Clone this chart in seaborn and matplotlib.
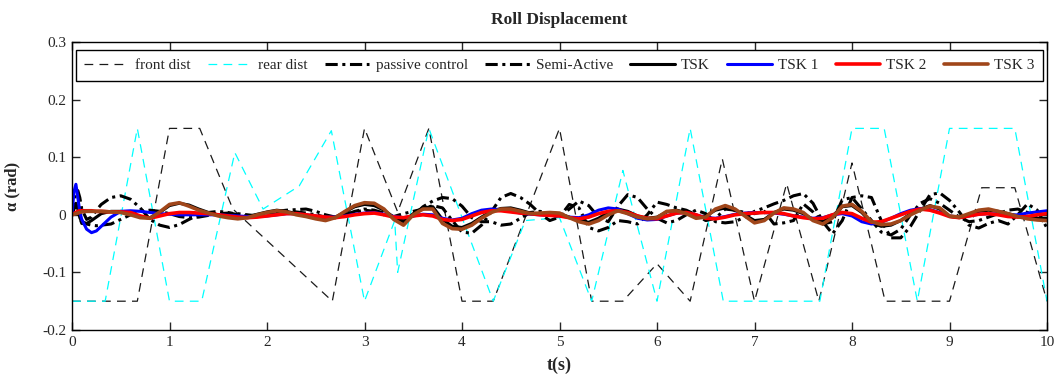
import numpy as np
import matplotlib
matplotlib.use("Agg")
import matplotlib.pyplot as plt
import seaborn as sns

# road disturbance profiles (knots)
front_t = [0, 0.67, 1.0, 1.31, 1.65, 2.67, 3.0, 3.34, 3.66, 4.0, 4.32, 5.0, 5.33, 5.65, 6.0, 6.34,
           6.67, 7.0, 7.33, 7.66, 8.0, 8.34, 9.0, 9.33, 9.67, 10.0]
front_y = [-0.15, -0.15, 0.15, 0.15, 0.01, -0.15, 0.15, 0.005, 0.15, -0.15, -0.15, 0.15, -0.15, -0.15, -0.085, -0.15,
           0.097, -0.15, 0.054, -0.15, 0.09, -0.15, -0.15, 0.047, 0.047, -0.15]
rear_t = [0, 0.34, 0.67, 1.0, 1.33, 1.67, 1.96, 2.33, 2.66, 3.0, 3.31, 3.34, 3.66, 4.32, 4.65, 5.0,
          5.33, 5.65, 6.0, 6.34, 6.68, 7.67, 8.0, 8.33, 8.67, 9.0, 9.67, 10.0]
rear_y = [-0.15, -0.15, 0.15, -0.15, -0.15, 0.108, 0.01, 0.05, 0.146, -0.15, -0.01, -0.1, 0.15, -0.15, -0.01, -0.005,
          -0.15, 0.077, -0.15, 0.15, -0.15, -0.15, 0.15, 0.15, -0.15, 0.15, 0.15, -0.15]

# responses: sampled at 0..0.25 (fine), then every 0.1 s
time = [0, 0.02, 0.04, 0.06, 0.08, 0.1, 0.15, 0.2, 0.25] + list(np.round(np.arange(0.3, 10.001, 0.1), 2))

passive = [0, 0.02, 0.038, 0.042, 0.03, 0.01, -0.008, -0.004, 0.008,
           0.018, 0.03, 0.033, 0.027, 0.012, -0.008, -0.018,
           -0.022, -0.017, -0.008, 0.0, 0.004, 0.006, 0.004, 0.0, -0.002, 0.0,
           0.003, 0.006, 0.008, 0.009, 0.01, 0.006, 0.0, -0.004, 0.0, 0.006,
           0.01, 0.008, 0.003, -0.004, -0.008, -0.002, 0.014, 0.024, 0.03, 0.028,
           0.015, -0.005, -0.012, -0.012, -0.018, -0.016, -0.006, 0.004, 0.006, 0.002,
           -0.004, 0.01, 0.024, 0.016, -0.004, -0.012, 0.015, 0.035, 0.03, 0.01,
           -0.006, -0.014, -0.01, 0.0, 0.008, 0.002, -0.012, -0.014, -0.012, -0.004,
           0.006, 0.012, 0.019, 0.025, 0.033, 0.037, 0.02, -0.012, -0.033, -0.01,
           0.03, 0.033, 0.03, -0.01, -0.04, -0.04, -0.02, 0.008, 0.035, 0.038,
           0.025, 0.005, -0.018, -0.023, -0.015, -0.01, -0.016, 0.0, 0.019, 0.008,
           -0.023]
semi = [0, 0.01, 0.015, 0.01, -0.005, -0.015, -0.016, -0.018, -0.019,
        -0.018, -0.016, -0.008, 0.0, 0.006, 0.008, 0.006,
        0.002, -0.003, -0.005, -0.004, -0.001, 0.002, 0.003, 0.002, 0.0, -0.002,
        -0.001, 0.002, 0.004, 0.005, 0.003, 0.0, -0.004, -0.005, 0.0, 0.005,
        0.008, 0.006, 0.0, -0.003, 0.002, 0.006, 0.01, 0.016, 0.012, -0.01,
        -0.03, -0.032, -0.018, 0.005, 0.03, 0.037, 0.03, 0.018, 0.002, -0.01,
        -0.004, 0.018, 0.012, -0.022, -0.028, -0.022, -0.01, -0.012, -0.016, 0.0,
        0.022, 0.018, 0.012, 0.008, 0.0, -0.01, -0.006, 0.01, 0.008, 0.004,
        0.002, 0.006, -0.016, -0.014, -0.01, 0.019, 0.005, -0.016, -0.012, 0.026,
        0.03, 0.01, -0.01, -0.03, -0.035, -0.025, 0.0, 0.02, 0.028, 0.02,
        0.008, -0.004, -0.012, -0.01, -0.004, 0.002, 0.008, 0.01, 0.004, -0.006,
        -0.014]
tsk = [0, 0.015, 0.02, 0.01, -0.005, -0.012, -0.015, -0.01, -0.004,
       0.002, 0.006, 0.006, 0.003, -0.003, -0.005, 0.004,
       0.016, 0.02, 0.017, 0.01, 0.004, 0.0, -0.004, -0.006, -0.004, 0.001,
       0.005, 0.008, 0.006, 0.002, -0.002, -0.006, -0.009, -0.004, 0.005, 0.014,
       0.018, 0.016, 0.008, -0.004, -0.012, 0.002, 0.012, 0.014, -0.008, -0.02,
       -0.022, -0.015, -0.004, 0.006, 0.011, 0.012, 0.008, 0.003, 0.002, 0.003,
       0.002, -0.004, -0.01, -0.013, -0.006, 0.004, 0.01, 0.006, -0.002, -0.006,
       -0.004, 0.005, 0.008, 0.004, -0.004, -0.002, 0.008, 0.012, 0.008, 0.0,
       -0.01, -0.008, 0.004, 0.01, 0.008, 0.002, -0.008, -0.012, -0.002, 0.014,
       0.016, 0.004, -0.014, -0.02, -0.018, -0.01, 0.002, 0.01, 0.016, 0.01,
       -0.003, -0.005, 0.0, 0.006, 0.008, 0.006, 0.002, -0.002, -0.005, -0.006,
       -0.006]
tsk1 = [0, 0.04, 0.053, 0.03, 0.005, -0.008, -0.025, -0.031, -0.028,
        -0.02, -0.004, 0.006, 0.007, 0.006, 0.004, 0.002,
        0.001, 0.0, 0.0, 0.0, 0.0, 0.0, -0.001, -0.002, -0.003, -0.003,
        -0.002, 0.0, 0.002, 0.002, 0.0, -0.002, -0.004, -0.004, -0.002, 0.001,
        0.003, 0.004, 0.001, -0.003, -0.005, -0.002, 0.001, 0.0, -0.006, -0.009,
        -0.006, 0.002, 0.008, 0.01, 0.009, 0.006, 0.003, 0.001, 0.0, -0.001,
        -0.002, -0.004, -0.005, 0.0, 0.008, 0.012, 0.01, 0.002, -0.006, -0.009,
        -0.008, -0.002, 0.003, 0.004, 0.0, -0.005, -0.006, -0.003, 0.001, 0.003,
        0.004, 0.004, 0.003, 0.001, -0.002, -0.004, -0.006, -0.005, 0.0, 0.002,
        -0.002, -0.012, -0.016, -0.013, -0.006, 0.002, 0.008, 0.011, 0.009, 0.004,
        -0.002, -0.004, -0.002, 0.001, 0.002, 0.001, -0.001, 0.0, 0.003, 0.005,
        0.007]
tsk2 = [0, 0.002, 0.004, 0.006, 0.007, 0.007, 0.007, 0.007, 0.006,
        0.006, 0.005, 0.005, 0.004, -0.002, -0.006, -0.002,
        0.002, 0.004, 0.004, 0.003, 0.002, 0.0, -0.002, -0.004, -0.005, -0.004,
        -0.002, 0.0, 0.002, 0.002, 0.0, -0.002, -0.004, -0.005, -0.003, 0.0,
        0.002, 0.003, 0.0, -0.004, -0.005, -0.002, 0.0, -0.002, -0.008, -0.01,
        -0.008, -0.002, 0.004, 0.007, 0.007, 0.005, 0.003, 0.002, 0.0, -0.001,
        -0.002, -0.005, -0.007, -0.004, 0.002, 0.006, 0.007, 0.004, -0.002, -0.006,
        -0.007, -0.002, 0.003, 0.004, 0.0, -0.006, -0.007, -0.004, 0.0, 0.002,
        0.003, 0.004, 0.004, 0.002, -0.002, -0.005, -0.007, -0.006, 0.0, 0.004,
        0.002, -0.006, -0.013, -0.012, -0.006, 0.0, 0.006, 0.01, 0.008, 0.003,
        -0.003, -0.005, -0.002, 0.001, 0.002, 0.0, -0.003, -0.004, -0.003, 0.0,
        0.002]
tsk3 = [0, 0.001, 0.002, 0.003, 0.004, 0.005, 0.006, 0.006, 0.006,
        0.006, 0.005, 0.004, 0.0, -0.005, -0.006, 0.005,
        0.018, 0.021, 0.015, 0.008, 0.003, -0.002, -0.005, -0.007, -0.005, 0.0,
        0.004, 0.007, 0.005, 0.0, -0.003, -0.007, -0.01, -0.005, 0.006, 0.016,
        0.021, 0.02, 0.01, -0.008, -0.018, 0.0, 0.01, 0.01, -0.015, -0.024,
        -0.025, -0.018, -0.006, 0.004, 0.01, 0.01, 0.006, 0.002, 0.003, 0.004,
        0.003, -0.005, -0.012, -0.016, -0.01, 0.0, 0.007, 0.002, -0.004, -0.007,
        -0.005, 0.006, 0.007, 0.002, -0.006, -0.004, 0.01, 0.016, 0.01, -0.002,
        -0.014, -0.01, 0.003, 0.012, 0.01, 0.004, -0.01, -0.016, -0.005, 0.015,
        0.018, 0.006, -0.012, -0.017, -0.016, -0.01, 0.0, 0.008, 0.015, 0.012,
        -0.002, -0.004, 0.002, 0.008, 0.01, 0.006, 0.002, -0.003, -0.007, -0.009,
        -0.01]

x_ticks = list(range(0, 11))
y_ticks = [-0.2, -0.1, 0, 0.1, 0.2, 0.3]
y_tick_labels = ["-0.2", "-0.1", "0", "0.1", "0.2", "0.3"]

sns.set_style("ticks")
plt.rcParams["font.family"] = ["Liberation Serif", "DejaVu Serif"]

fig = plt.figure(figsize=(10.62, 3.83), dpi=100)
ax = fig.add_axes([72 / 1062, 1 - 330 / 383, 975 / 1062, 288 / 383])

dash_dot = (0, (4, 1.5, 1, 1.5))
series = [
    (front_t, front_y, "front dist", "#1a1a1a", 0.9, (0, (7, 5))),
    (rear_t, rear_y, "rear dist", "#00ffff", 0.9, (0, (7, 5))),
    (time, passive, "passive control", "black", 2.2, dash_dot),
    (time, semi, "Semi-Active", "black", 2.2, dash_dot),
    (time, tsk, "TSK", "black", 2.2, "-"),
    (time, tsk1, "TSK 1", "#0000ff", 2.2, "-"),
    (time, tsk2, "TSK 2", "#ff0000", 2.6, "-"),
    (time, tsk3, "TSK 3", "#a0461a", 2.6, "-"),
]
for xs, ys, label, color, lw, ls in series:
    assert len(xs) == len(ys), label
    sns.lineplot(x=xs, y=ys, ax=ax, label=label, color=color, linewidth=lw,
                 linestyle=ls, estimator=None, sort=False)

ax.set_xlim(0, 10)
ax.set_ylim(-0.2, 0.3)
ax.set_xticks(x_ticks)
ax.set_yticks(y_ticks)
ax.set_yticklabels(y_tick_labels)
ax.tick_params(direction="in", top=True, right=True, length=6, width=1, labelsize=11, pad=4)
for sp in ax.spines.values():
    sp.set_linewidth(1)
    sp.set_color("black")

ax.set_title("Roll Displacement", fontsize=12.5, fontweight="bold", pad=13)
ax.set_xlabel("t(s)", fontsize=13, fontweight="bold", labelpad=6)
ax.set_ylabel("α (rad)", fontsize=12, fontweight="bold", labelpad=16)

leg = ax.legend(ncol=8, loc="upper center", bbox_to_anchor=(0.5, 0.972), borderaxespad=0,
                fontsize=11, handlelength=2.9, handletextpad=0.4, columnspacing=1.15,
                fancybox=False, framealpha=1, edgecolor="black", borderpad=0.55)
leg.get_frame().set_linewidth(1)

fig.savefig("out.png", dpi=100)
